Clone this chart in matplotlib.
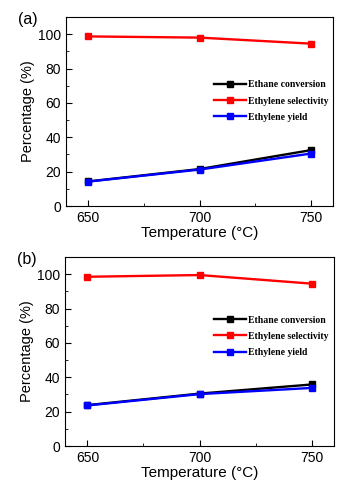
import numpy as np
import matplotlib
matplotlib.use('Agg')
from matplotlib import pyplot as plt
from matplotlib.ticker import MultipleLocator

temps = [650, 700, 750]

# panel (a)
conv_a = [14.3, 21.5, 32.5]
sel_a = [98.7, 98.0, 94.5]
yld_a = [14.2, 21.2, 30.5]

# panel (b)
conv_b = [23.8, 30.5, 35.8]
sel_b = [98.5, 99.5, 94.5]
yld_b = [23.6, 30.2, 33.8]

panels = [('(a)', conv_a, sel_a, yld_a), ('(b)', conv_b, sel_b, yld_b)]
series_names = ['Ethane conversion', 'Ethylene selectivity', 'Ethylene yield']
colors = ['black', 'red', 'blue']

plt.rcParams['font.family'] = 'Liberation Sans'

fig = plt.figure(figsize=(3.64, 4.82), dpi=100)
boxes = [[66/364, 1-206/482, 267/364, 189/482],
         [65/364, 1-446/482, 269/364, 189/482]]
# legend anchors differ a little between panels
leg_y = [0.555, 0.58]

for box, ly, (tag, conv, sel, yld) in zip(boxes, leg_y, panels):
    ax = fig.add_axes(box)
    for vals, name, c in zip([conv, sel, yld], series_names, colors):
        ax.plot(temps, vals, color=c, lw=1.7, marker='s', ms=4, label=name)
    ax.set_xlim(640, 760)
    ax.set_ylim(0, 110)
    ax.set_xticks(temps)
    ax.set_yticks([0, 20, 40, 60, 80, 100])
    ax.xaxis.set_minor_locator(MultipleLocator(25))
    ax.yaxis.set_minor_locator(MultipleLocator(10))
    ax.tick_params(which='both', direction='in', labelsize=10)
    ax.tick_params(which='major', length=4)
    ax.tick_params(which='minor', length=2)
    ax.set_xlabel('Temperature (°C)', fontsize=11, labelpad=1)
    ax.set_ylabel('Percentage (%)', fontsize=10.5, labelpad=2)
    ax.text(-0.18, 0.985, tag, transform=ax.transAxes, fontsize=11.5, va='center')
    ax.legend(loc='center left', bbox_to_anchor=(0.52, ly), frameon=False,
              prop={'family': 'Liberation Serif', 'weight': 'bold', 'size': 7},
              handlelength=3.3, labelspacing=0.75, handletextpad=0.2)

plt.savefig('out.png', dpi=100)
